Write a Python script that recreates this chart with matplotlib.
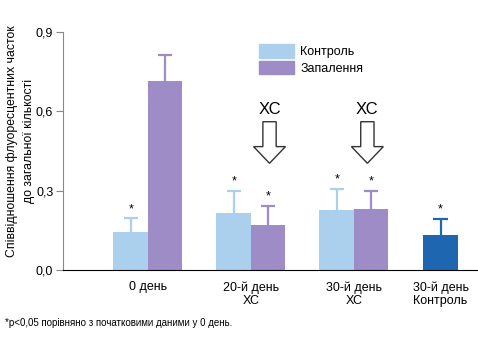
import matplotlib.pyplot as plt
from matplotlib.patches import FancyArrow, Patch
import numpy as np

plt.rcParams['font.family'] = ['Liberation Sans', 'DejaVu Sans']

groups = ["0 день", "20-й день\nХС", "30-й день\nХС", "30-й день\nКонтроль"]
group_x = [0, 1, 2, 2.84]

control = [0.145, 0.217, 0.227]
control_err = [0.05, 0.083, 0.08]
inflam = [0.713, 0.17, 0.23]
inflam_err = [0.10, 0.072, 0.068]
late_control = 0.133
late_control_err = 0.06

control_star = [True, True, True]
inflam_star = [False, True, True]

arrow_x = [1.18, 2.13]

c_ctrl = "#abd0ee"
c_infl = "#9e8cc6"
c_dark = "#1f66b1"

fig = plt.figure(figsize=(4.78, 3.54), dpi=100)
ax = fig.add_axes([63 / 478, 84 / 354, 1 - 63 / 478, (270 - 31.7) / 354])

w = 0.335
cap = 0.07


def bar_with_err(x, h, e, color, star):
    ax.bar(x, h, w, color=color, zorder=2)
    ax.vlines(x, h, h + e, color=color, linewidth=1.6, zorder=1)
    ax.hlines(h + e, x - cap, x + cap, color=color, linewidth=1.6, zorder=1)
    if star:
        ax.text(x, h + e + 0.035, "*", ha="center", va="center", fontsize=9)


xs = np.array(group_x[:3])
for i in range(3):
    bar_with_err(xs[i] - w / 2, control[i], control_err[i], c_ctrl, control_star[i])
    bar_with_err(xs[i] + w / 2, inflam[i], inflam_err[i], c_infl, inflam_star[i])
bar_with_err(group_x[3], late_control, late_control_err, c_dark, True)

for x in arrow_x:
    ax.add_patch(FancyArrow(x, 0.56, 0, -0.157, width=0.129, head_width=0.31,
                            head_length=0.063, length_includes_head=True,
                            facecolor="white", edgecolor="#333333", linewidth=1.0, zorder=3))
    ax.text(x, 0.607, "ХС", ha="center", va="center", fontsize=12)

ax.set_xlim(-0.825, 3.204)
ax.set_ylim(0, 0.9)
ax.set_yticks([0, 0.3, 0.6, 0.9])
ax.set_yticklabels(["0,0", "0,3", "0,6", "0,9"], fontsize=9)
ax.set_xticks(group_x)
ax.set_xticklabels(groups, fontsize=9)
ax.tick_params(axis="x", length=0, pad=8)
ax.tick_params(axis="y", length=5, color="#888888", pad=2)

for s in ["top", "right"]:
    ax.spines[s].set_visible(False)
ax.spines["left"].set_color("#888888")
ax.spines["bottom"].set_color("black")

ax.set_ylabel("Співвідношення флуоресцентних часток\nдо загальної кількості", fontsize=8.8,
              linespacing=1.5)
ax.yaxis.set_label_coords(-0.068, 0.54)

handles = [Patch(color=c_ctrl), Patch(color=c_infl)]
ax.legend(handles, ["Контроль", "Запалення"], loc="upper left",
          bbox_to_anchor=(0.445, 0.995), frameon=False, fontsize=9,
          handlelength=2.8, handleheight=1.3, handletextpad=0.5, labelspacing=0.2)

fig.text(5 / 478, 1 - 323 / 354, "*p<0,05 порівняно з початковими даними у 0 день.",
         fontsize=7, va="center", ha="left")

fig.savefig("out.png", dpi=100)
